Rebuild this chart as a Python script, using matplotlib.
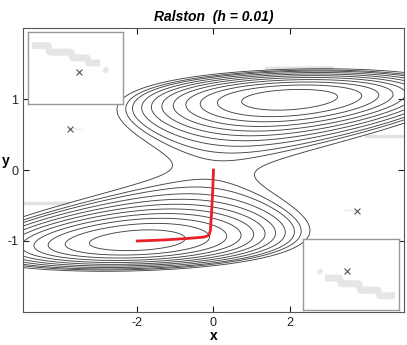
import matplotlib
matplotlib.use("Agg")
import matplotlib.pyplot as plt
import numpy as np

plt.rcParams['font.family'] = ['Liberation Sans', 'DejaVu Sans']
plt.rcParams['axes.unicode_minus'] = False

# energy landscape: K*(y^2-1)^2 + C*(x-2y)^2
K = 18.0
C = 1.0
levels = [1.5, 3.4, 5.2, 7.0, 8.8, 10.6, 12.4, 14.2, 16.0, 17.4, 19.3]

# red trajectory (Ralston, h = 0.01)
traj_x = [0.0, -0.02, -0.05, -0.08, -0.12, -0.25, -0.7, -1.3, -2.0]
traj_y = [0.0, -0.3, -0.6, -0.85, -0.92, -0.945, -0.965, -0.985, -1.0]

# faint grey trails
grey_left_x = [-5.0, -3.85]
grey_left_y = [-0.47, -0.47]
grey_right_x = [4.0, 5.0]
grey_right_y = [0.48, 0.48]
grey_top_x = [1.4, 3.1]
grey_top_y = [1.43, 1.44]
grey_bot_x = [-2.2, -1.1]
grey_bot_y = [-1.34, -1.33]
tail1_x = [-3.77, -3.45]
tail1_y = [0.58, 0.57]
tail2_x = [3.45, 3.77]
tail2_y = [-0.57, -0.58]
markers_x = [-3.77, 3.77]
markers_y = [0.58, -0.58]

# inset staircases (inset fractions)
inset1_x = [0.04, 0.21, 0.23, 0.45, 0.47, 0.62, 0.64, 0.76]
inset1_y = [0.81, 0.81, 0.72, 0.72, 0.64, 0.64, 0.57, 0.57]
inset1_tail_x = [0.80, 0.84]
inset1_tail_y = [0.49, 0.45]
inset1_mark = (0.54, 0.45)
inset2_x = [0.23, 0.38, 0.40, 0.58, 0.60, 0.78, 0.80, 0.96]
inset2_y = [0.45, 0.45, 0.37, 0.37, 0.28, 0.28, 0.20, 0.20]
inset2_tail_x = [0.16, 0.19]
inset2_tail_y = [0.56, 0.52]
inset2_mark = (0.46, 0.55)

fig = plt.figure(figsize=(4.07, 3.45), dpi=100)
ax = fig.add_axes([0.0565, 0.0957, 0.936, 0.823])

xs = np.linspace(-5, 5, 400)
ys = np.linspace(-2, 2, 400)
X, Y = np.meshgrid(xs, ys)
F = K * (Y**2 - 1)**2 + C * (X - 2 * Y)**2

for gx, gy in [(grey_left_x, grey_left_y), (grey_right_x, grey_right_y),
               (grey_top_x, grey_top_y), (grey_bot_x, grey_bot_y)]:
    ax.plot(gx, gy, color='#e2e2e2', lw=2.5, zorder=1)
for gx, gy in [(tail1_x, tail1_y), (tail2_x, tail2_y)]:
    ax.plot(gx, gy, color='#f0f0f0', lw=1.5, zorder=1)
ax.contour(X, Y, F, levels=levels, colors='#444444', linewidths=0.65, zorder=2)
ax.plot(markers_x, markers_y, 'x', color='#555555', ms=5, mew=0.8, zorder=3)
ax.plot(traj_x, traj_y, color='#e8202a', lw=2.0, zorder=4)

ax.set_xlim(-5, 5)
ax.set_ylim(-2, 2)
ax.set_xticks([-2, 0, 2])
ax.set_yticks([-1, 0, 1])
ax.tick_params(direction='in', length=4, top=True, right=True, labelsize=9, colors='#222222')
for s in ax.spines.values():
    s.set_color('#555555')
ax.set_xlabel('x', fontweight='bold', fontsize=10, labelpad=0)
ax.set_ylabel('y', fontweight='bold', fontsize=10, rotation=0, va='center')
ax.yaxis.set_label_coords(-0.045, 0.53)
ax.set_title('Ralston  (h = 0.01)', fontweight='bold', fontstyle='italic', fontsize=10, pad=5)

for rect, sx, sy, tx, ty, mk in [
    ([0.0688, 0.6986, 0.2334, 0.2087], inset1_x, inset1_y, inset1_tail_x, inset1_tail_y, inset1_mark),
    ([0.7445, 0.1014, 0.2359, 0.2058], inset2_x, inset2_y, inset2_tail_x, inset2_tail_y, inset2_mark)]:
    ia = fig.add_axes(rect)
    ia.plot(sx, sy, color='#e6e6e6', lw=5, solid_capstyle='butt')
    ia.plot(tx, ty, color='#e6e6e6', lw=4, solid_capstyle='butt')
    ia.plot([mk[0]], [mk[1]], 'x', color='#555555', ms=5, mew=0.8)
    ia.set_xlim(0, 1)
    ia.set_ylim(0, 1)
    ia.set_xticks([])
    ia.set_yticks([])
    for s in ia.spines.values():
        s.set_color('#999999')
        s.set_linewidth(1.0)

fig.savefig('out.png', dpi=100)
